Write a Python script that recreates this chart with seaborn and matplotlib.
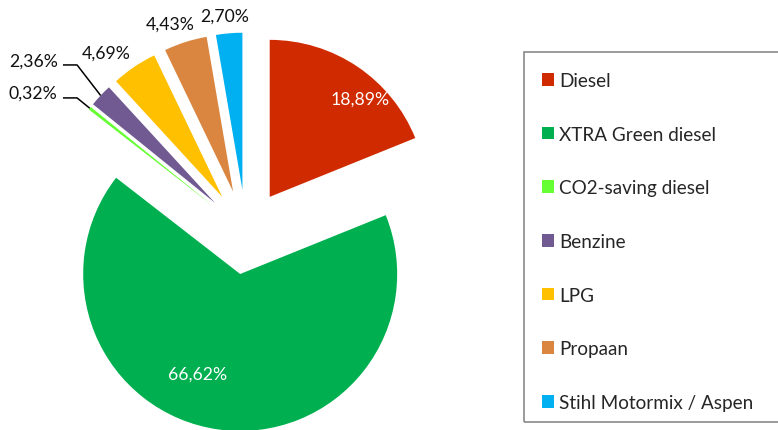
import numpy as np
import matplotlib
matplotlib.use("Agg")
import matplotlib.pyplot as plt
import seaborn as sns
from matplotlib.patches import Rectangle

# data
fuels = ["Diesel", "XTRA Green diesel", "CO2-saving diesel", "Benzine",
         "LPG", "Propaan", "Stihl Motormix / Aspen"]
shares = [18.89, 66.62, 0.32, 2.36, 4.69, 4.43, 2.70]
colors = ["#D02A00", "#00B050", "#66FF33", "#705A91",
          "#FFC000", "#DA8640", "#00B0F0"]

sns.set_theme(style="white")
plt.rcParams['font.family'] = ['Lato', 'DejaVu Sans']
fs = 12.7

fig = plt.figure(figsize=(7.78, 4.31), dpi=100)
ax = fig.add_axes([0, 0, 1, 1])

wedges, _ = ax.pie(shares, colors=colors, startangle=90, counterclock=False,
                   explode=[0.27] * len(shares), radius=1,
                   wedgeprops=dict(linewidth=0))

# pixel layout: pie centre at (246, 233), radius 157 px
ax.set_xlim(-246 / 157, 532 / 157)
ax.set_ylim(-198 / 157, 233 / 157)
ax.set_aspect('auto')
ax.axis('off')

def pct(v):
    return f"{v:.2f}%".replace('.', ',')

# labels inside the two big slices
ax.text(0.726, 0.847, pct(shares[0]), color='white', fontsize=fs, ha='center', va='center')
ax.text(-0.306, -0.904, pct(shares[1]), color='white', fontsize=fs, ha='center', va='center')

# outside labels
ax.text(-0.134, 1.376, pct(shares[6]), fontsize=fs, ha='center', va='center', color='#111111')
ax.text(-0.484, 1.325, pct(shares[5]), fontsize=fs, ha='center', va='center', color='#111111')
ax.text(-0.892, 1.140, pct(shares[4]), fontsize=fs, ha='center', va='center', color='#111111')
ax.text(-1.197, 1.089, pct(shares[3]), fontsize=fs, ha='right', va='center', color='#111111')
ax.text(-1.204, 0.885, pct(shares[2]), fontsize=fs, ha='right', va='center', color='#111111')

# leader lines to the two thin slices
def outer_point(w):
    mid = np.deg2rad((w.theta1 + w.theta2) / 2)
    cx, cy = w.center
    return cx + w.r * np.cos(mid), cy + w.r * np.sin(mid)

for idx, ly in [(3, 1.064), (2, 0.854)]:
    px, py = outer_point(wedges[idx])
    ax.plot([-1.166, -1.076, px], [ly, ly, py], color='black', lw=1.1,
            solid_capstyle='butt')

# legend with a box running off the right edge
fig.patches.append(Rectangle((524 / 778, 1 - 423 / 431), 270 / 778, 370 / 431,
                             transform=fig.transFigure, fill=False,
                             edgecolor='#8a8a8a', linewidth=1.2))
leg = fig.legend(wedges, fuels, loc='upper left',
                 bbox_to_anchor=(542 / 778, 1 - 73 / 431),
                 frameon=False, fontsize=13.6, borderpad=0, borderaxespad=0,
                 handlelength=0.65, handleheight=0.65, handletextpad=0.25,
                 labelspacing=1.94)

fig.savefig("out.png", dpi=100)
